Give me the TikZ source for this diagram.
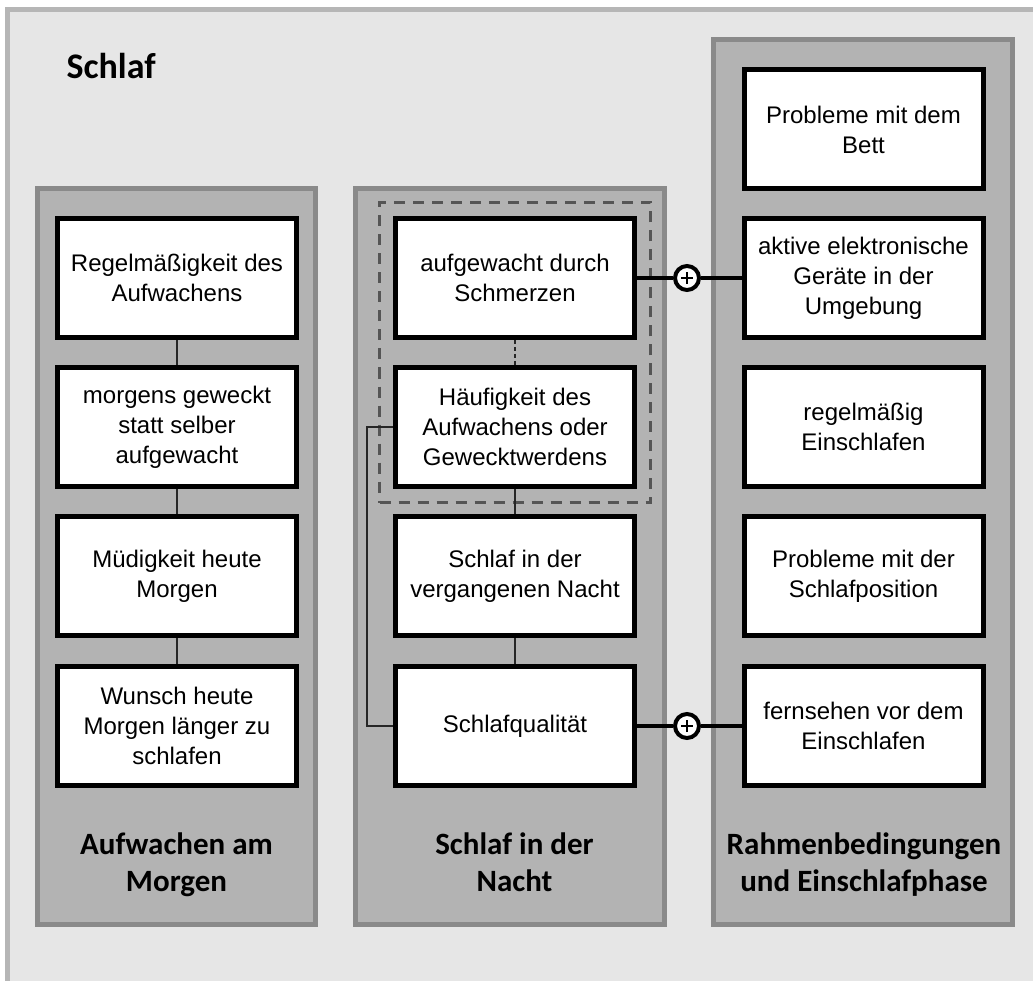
\documentclass[tikz,border=0pt]{standalone}
\usepackage{fontspec}
\setmainfont{Liberation Sans}
\newfontfamily\headfont{Carlito}
\usetikzlibrary{fit}
\definecolor{bggray}{HTML}{E6E6E6}
\definecolor{bgborder}{HTML}{B6B6B6}
\definecolor{colfill}{HTML}{B3B3B3}
\definecolor{colborder}{HTML}{8A8A8A}
\definecolor{dashgray}{HTML}{555555}

\begin{document}
\begin{tikzpicture}[
    x=1pt, y=-1pt,
    column/.style={draw=colborder, fill=colfill, line width=5pt},
    item/.style={draw, fill=white, line width=5pt, minimum width=239pt, minimum height=119pt,
      inner sep=2pt, align=center, font=\fontsize{24}{30}\selectfont},
    coltitle/.style={anchor=north, align=center, font=\headfont\bfseries\fontsize{31}{37}\selectfont},
    dashbox/.style={draw=dashgray, line width=3pt, dash pattern=on 11pt off 8pt, inner sep=13.5pt},
    link/.style={line width=1.5pt, draw=black!85},
    strong/.style={line width=4pt},
    plus/.style={circle, draw, fill=white, line width=4pt, minimum size=24pt, inner sep=0pt}
]
  \useasboundingbox (0,0) rectangle (1033,981);
  \fill[white] (0,0) rectangle (1033,981);

  % Rahmen und Spalten
  \draw[draw=bgborder, fill=bggray, line width=5pt] (7.5,9.5) rectangle (1050,1000);
  \node[anchor=base west, font=\headfont\bfseries\fontsize{36}{40}\selectfont] (title) at (63,79) {Schlaf};
  \draw[column] (37.5,188.5) rectangle (315.5,924.5);
  \draw[column] (355.5,188.5) rectangle (664.5,924.5);
  \draw[column] (713.5,39.5) rectangle (1012.5,924.5);

  % Aufwachen am Morgen
  \node[item] (l1) at (177,278) {Regelmäßigkeit des\\Aufwachens};
  \node[item] (l2) at (177,427) {morgens geweckt\\statt selber\\aufgewacht};
  \node[item] (l3) at (177,576) {Müdigkeit heute\\Morgen};
  \node[item] (l4) at (177,726) {Wunsch heute\\Morgen länger zu\\schlafen};
  \node[coltitle] (t1) at (176.5,829) {Aufwachen am\\Morgen};

  % Schlaf in der Nacht
  \node[item] (m1) at (515,278) {aufgewacht durch\\Schmerzen};
  \node[item] (m2) at (515,427) {Häufigkeit des\\Aufwachens oder\\Gewecktwerdens};
  \node[item] (m3) at (515,576) {Schlaf in der\\vergangenen Nacht};
  \node[item] (m4) at (515,726) {Schlafqualität};
  \node[coltitle] (t2) at (514.5,829) {Schlaf in der\\Nacht};
  \node[dashbox, fit=(m1)(m2)] (group) {};

  % Rahmenbedingungen
  \node[item] (r1) at (863.5,129.5) {Probleme mit dem\\Bett};
  \node[item] (r2) at (863.5,278) {aktive elektronische\\Geräte in der\\Umgebung};
  \node[item] (r3) at (863.5,427) {regelmäßig\\Einschlafen};
  \node[item] (r4) at (863.5,576) {Probleme mit der\\Schlafposition};
  \node[item] (r5) at (863.5,726) {fernsehen vor dem\\Einschlafen};
  \node[coltitle] (t3) at (864,829) {Rahmenbedingungen\\und Einschlafphase};

  % Verbindungen
  \draw[link] (l1) -- (l2);
  \draw[link] (l2) -- (l3);
  \draw[link] (l3) -- (l4);
  \draw[link, dash pattern=on 4pt off 3pt] (m1) -- (m2);
  \draw[link] (m2) -- (m3);
  \draw[link] (m3) -- (m4);
  \draw[link] (m2.west) -- ++(-26,0) |- (m4.west);

  \node[plus] (p1) at (687,278) {};
  \node[plus] (p2) at (687,726) {};
  \draw[strong] (m1) -- (p1) -- (r2);
  \draw[strong] (m4) -- (p2) -- (r5);
  \foreach \p in {p1,p2} {
    \draw[line width=1.3pt] ([xshift=-6pt]\p.center) -- ([xshift=6pt]\p.center);
    \draw[line width=1.3pt] ([yshift=-6pt]\p.center) -- ([yshift=6pt]\p.center);
  }
\end{tikzpicture}
\end{document}
